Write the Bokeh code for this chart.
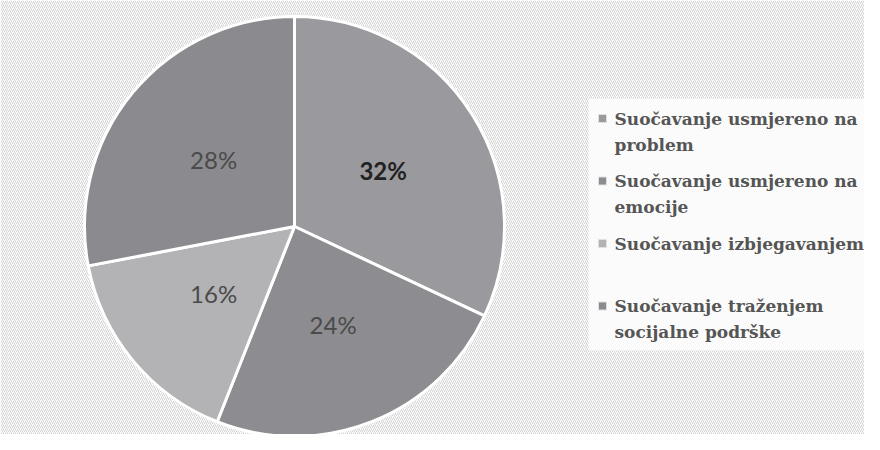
import math
from bokeh.plotting import figure
from bokeh.models import Range1d, BoxAnnotation, ColumnDataSource
from bokeh.core.properties import value
from bokeh.embed import file_html
from bokeh.resources import INLINE

# data
categories = [
    "Suočavanje usmjereno na\nproblem",
    "Suočavanje usmjereno na\nemocije",
    "Suočavanje izbjegavanjem",
    "Suočavanje traženjem\nsocijalne podrške",
]
percents = [32, 24, 16, 28]
slice_colors = ["#9a9a9e", "#8d8d91", "#b3b3b6", "#8b8b8f"]
label_colors = ["#222222", "#4a4a4a", "#4a4a4a", "#4a4a4a"]
label_weights = ["bold", "normal", "normal", "normal"]

W, H = 864, 434
IMG_H = 450
p = figure(width=W, height=H, output_backend="svg", toolbar_location=None,
           x_range=Range1d(0, W), y_range=Range1d(IMG_H - H, IMG_H),
           min_border=0)
p.axis.visible = False
p.grid.visible = False
p.outline_line_color = None
p.background_fill_color = "white"
p.border_fill_color = "white"

# hatched background
p.add_layout(BoxAnnotation(fill_color="white", fill_alpha=1.0, line_color=None,
                           hatch_pattern="/", hatch_color="#d2d2d2",
                           hatch_scale=4, hatch_weight=1, level="underlay"))
# legend box
p.add_layout(BoxAnnotation(left=588, right=900, bottom=IMG_H - 350, top=IMG_H - 98,
                           fill_color="white", fill_alpha=0.8, line_color=None,
                           level="underlay"))

cx, cy, r = 294, IMG_H - 226, 210
total = sum(percents)
starts, ends, lx, ly = [], [], [], []
cum = 0.0
for v in percents:
    s = math.pi / 2 - 2 * math.pi * cum / total
    e = s - 2 * math.pi * v / total
    starts.append(s)
    ends.append(e)
    mid = (s + e) / 2
    lx.append(cx + 0.5 * r * math.cos(mid))
    ly.append(cy + 0.5 * r * math.sin(mid))
    cum += v

src = ColumnDataSource(dict(start=starts, end=ends, color=slice_colors,
                            lx=lx, ly=ly,
                            txt=[f"{v}%" for v in percents],
                            tcol=label_colors, tw=label_weights))
p.wedge(x=cx, y=cy, radius=r, start_angle="start", end_angle="end",
        direction="clock", fill_color="color", line_color="white",
        line_width=3, source=src)
p.text(x="lx", y="ly", text="txt", text_color="tcol", text_font_style="tw",
       text_font=value("Lato"), text_font_size="24px", text_align="center",
       text_baseline="middle", source=src)

step = 62.5
ty = [IMG_H - 108 - i * step for i in range(len(categories))]
my = [IMG_H - 118 - i * step for i in range(len(categories))]
lsrc = ColumnDataSource(dict(ty=ty, my=my, txt=categories, color=slice_colors))
p.scatter(x=602, y="my", marker="square", size=8, fill_color="color",
          line_color="#e0e0e0", line_width=1, source=lsrc)
p.text(x=614, y="ty", text="txt", text_color="#555555", text_font_style="bold",
       text_font=value("DejaVu Serif"), text_font_size="17px",
       text_line_height=1.3, text_align="left", text_baseline="top",
       source=lsrc)

open("out.html", "w").write(file_html(p, INLINE))
